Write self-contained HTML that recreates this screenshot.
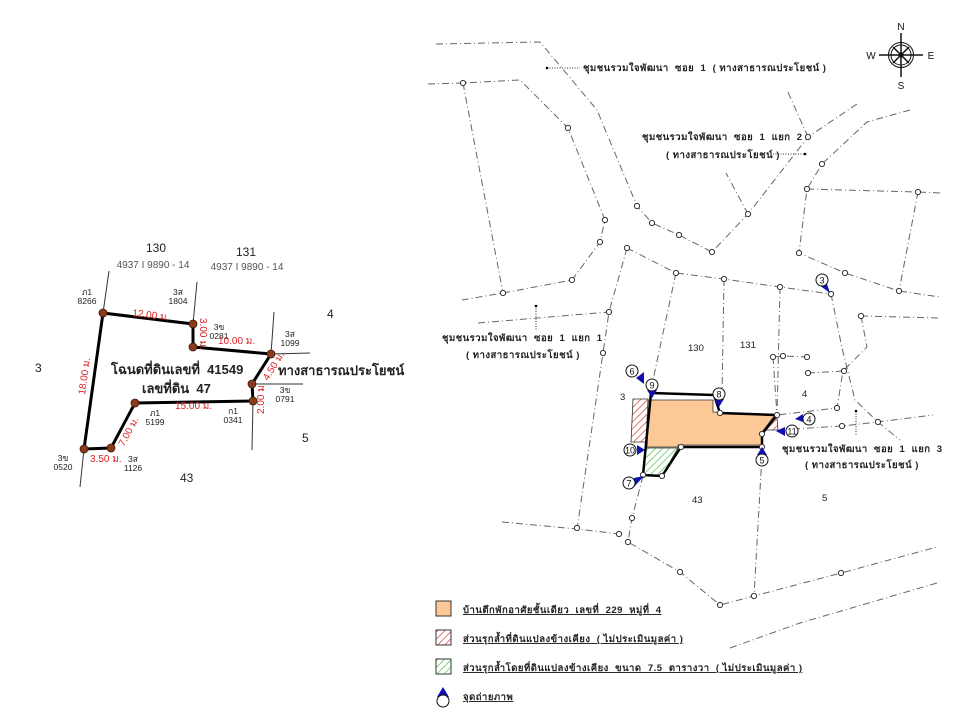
<!DOCTYPE html>
<html><head><meta charset="utf-8"><style>
html,body{margin:0;padding:0;background:#fff;width:960px;height:720px;overflow:hidden}
svg{display:block}
text{font-family:"Liberation Sans","Noto Sans CJK SC",sans-serif}
.r{fill:none;stroke:#666;stroke-width:1;stroke-dasharray:7 3 1 3}
.c{fill:#fff;stroke:#333;stroke-width:1}
.t{font-size:9.5px;fill:#222}
.red{font-size:10px;fill:#d22}
.lbl{font-size:9.5px;font-weight:bold;fill:#222;letter-spacing:0.5px}
</style></head><body>
<svg width="960" height="720" viewBox="0 0 960 720" xmlns="http://www.w3.org/2000/svg">
<defs>
<pattern id="hr" width="5" height="5" patternUnits="userSpaceOnUse" patternTransform="rotate(45)"><rect width="5" height="5" fill="#fff"/><line x1="0" y1="0" x2="0" y2="5" stroke="#e57373" stroke-width="2"/></pattern>
<pattern id="hg" width="5" height="5" patternUnits="userSpaceOnUse" patternTransform="rotate(45)"><rect width="5" height="5" fill="#fff"/><line x1="0" y1="0" x2="0" y2="5" stroke="#7ed67e" stroke-width="2"/></pattern>
<g id="pt"><circle r="2.6" class="c"/></g>
</defs>

<!-- LEFT DIAGRAM -->
<g stroke="#333" stroke-width="1" fill="none">
<line x1="109" y1="271" x2="103" y2="313"/>
<line x1="84" y1="449" x2="80" y2="487"/>
<line x1="197" y1="282" x2="193" y2="324"/>
<line x1="274" y1="312" x2="271" y2="354"/>
<line x1="271" y1="354" x2="310" y2="353"/>
<line x1="252" y1="384" x2="303" y2="384"/>
<line x1="253" y1="401" x2="252" y2="450"/>
</g>
<polyline points="103,313 193,324 193,347 271,354 252,384 253,401 135,403 111,448 84,449 103,313" fill="none" stroke="#000" stroke-width="3" stroke-linejoin="round"/>
<g fill="#8b3a1a" stroke="#3a1a0a" stroke-width="0.8">
<circle cx="103" cy="313" r="4"/><circle cx="193" cy="324" r="4"/><circle cx="193" cy="347" r="4"/><circle cx="271" cy="354" r="4"/><circle cx="252" cy="384" r="4"/><circle cx="253" cy="401" r="4"/><circle cx="135" cy="403" r="4"/><circle cx="111" cy="448" r="4"/><circle cx="84" cy="449" r="4"/>
</g>
<text x="156" y="252" font-size="12" text-anchor="middle" fill="#222">130</text>
<text x="246" y="256" font-size="12" text-anchor="middle" fill="#222">131</text>
<text x="153" y="268" font-size="10" text-anchor="middle" fill="#555">4937 I 9890 - 14</text>
<text x="247" y="270" font-size="10" text-anchor="middle" fill="#555">4937 I 9890 - 14</text>
<text x="327" y="318" font-size="12" fill="#222">4</text>
<text x="35" y="372" font-size="12" fill="#222">3</text>
<text x="302" y="442" font-size="12" fill="#222">5</text>
<text x="180" y="482" font-size="12" fill="#222">43</text>
<text x="111" y="374" font-size="13" font-weight="bold" fill="#222">โฉนดที่ดินเลขที่&#160;&#160;41549</text>
<text x="142" y="393" font-size="13" font-weight="bold" fill="#222">เลขที่ดิน&#160;&#160;47</text>
<text x="278" y="375" font-size="13" font-weight="bold" fill="#222">ทางสาธารณประโยชน์</text>
<g class="t" text-anchor="middle">
<text x="87" y="295" font-size="8.5">ภ1</text><text x="87" y="304" font-size="8.5">8266</text>
<text x="178" y="295" font-size="8.5">3ส</text><text x="178" y="304" font-size="8.5">1804</text>
<text x="219" y="330" font-size="8.5">3ข</text><text x="219" y="339" font-size="8.5">0281</text>
<text x="290" y="337" font-size="8.5">3ส</text><text x="290" y="346" font-size="8.5">1099</text>
<text x="285" y="393" font-size="8.5">3ข</text><text x="285" y="402" font-size="8.5">0791</text>
<text x="155" y="416" font-size="8.5">ภ1</text><text x="155" y="425" font-size="8.5">5199</text>
<text x="233" y="414" font-size="8.5">ก1</text><text x="233" y="423" font-size="8.5">0341</text>
<text x="63" y="461" font-size="8.5">3ข</text><text x="63" y="470" font-size="8.5">0520</text>
<text x="133" y="462" font-size="8.5">3ส</text><text x="133" y="471" font-size="8.5">1126</text>
</g>
<g class="red" font-size="9.5">
<text x="132" y="316" transform="rotate(7 132 316)">12.00 ม.</text>
<text x="218" y="344">10.00 ม.</text>
<text x="175" y="409">15.00 ม.</text>
<text x="90" y="462">3.50 ม.</text>
<text x="200" y="318" transform="rotate(90 200 318)">3.00 ม.</text>
<text x="85" y="395" transform="rotate(-82 85 395)">18.00 ม.</text>
<text x="124" y="447" transform="rotate(-62 124 447)">7.00 ม.</text>
<text x="268" y="381" transform="rotate(-58 268 381)">4.50 ม.</text>
<text x="264" y="414" transform="rotate(-90 264 414)">2.00 ม.</text>
</g>

<!-- RIGHT MAP ROADS -->
<g class="r">
<polyline points="436,44 540,42 597,110 637,206 652,223 679,235 712,252 748,214 808,137 857,104"/>
<polyline points="808,137 787,90"/>
<polyline points="748,214 726,173"/>
<polyline points="428,84 463,83 520,80 568,128 605,220 600,242 572,280 503,293 462,300"/>
<polyline points="463,83 503,293"/>
<polyline points="910,110 867,122 822,164 807,189 799,253 845,273 899,291 940,297"/>
<polyline points="807,189 918,192 940,193"/>
<polyline points="918,192 899,291"/>
<polyline points="627,248 676,273 724,279 780,287 831,294"/>
<polyline points="627,248 609,312 603,353 577,529"/>
<polyline points="478,323 609,312"/>
<polyline points="676,273 660,347 652,385"/>
<polyline points="724,279 722,395"/>
<polyline points="780,287 777,415"/>
<polyline points="831,294 842,348 855,400 878,422 900,440"/>
<polyline points="861,316 940,318"/>
<polyline points="861,316 867,347 843,371 837,408 777,415"/>
<polyline points="773,357 783,356 807,357"/>
<polyline points="808,373 844,371"/>
<polyline points="773,357 777,415"/>
<polyline points="793,429 842,426 878,422 933,415"/>
<polyline points="502,522 577,529 619,534"/>
<polyline points="643,476 632,518 628,542 680,572 720,605 754,596 841,573 937,547"/>
<polyline points="762,455 754,596"/>
<polyline points="730,648 800,623 937,583"/>
</g>
<line x1="547" y1="68" x2="580" y2="68" stroke="#333" stroke-dasharray="1 1.5"/><circle cx="547" cy="68" r="1.3"/>
<line x1="773" y1="154" x2="805" y2="154" stroke="#333" stroke-dasharray="1 1.5"/><circle cx="805" cy="154" r="1.3"/>
<line x1="536" y1="306" x2="536" y2="330" stroke="#333" stroke-dasharray="1 1.5"/><circle cx="536" cy="306" r="1.3"/>
<line x1="856" y1="411" x2="856" y2="435" stroke="#333" stroke-dasharray="1 1.5"/><circle cx="856" cy="411" r="1.3"/>
<g>
<use href="#pt" x="463" y="83"/><use href="#pt" x="568" y="128"/><use href="#pt" x="605" y="220"/><use href="#pt" x="600" y="242"/><use href="#pt" x="572" y="280"/><use href="#pt" x="503" y="293"/>
<use href="#pt" x="637" y="206"/><use href="#pt" x="652" y="223"/><use href="#pt" x="679" y="235"/><use href="#pt" x="712" y="252"/><use href="#pt" x="748" y="214"/><use href="#pt" x="808" y="137"/>
<use href="#pt" x="822" y="164"/><use href="#pt" x="807" y="189"/><use href="#pt" x="918" y="192"/><use href="#pt" x="799" y="253"/><use href="#pt" x="845" y="273"/><use href="#pt" x="899" y="291"/>
<use href="#pt" x="627" y="248"/><use href="#pt" x="676" y="273"/><use href="#pt" x="724" y="279"/><use href="#pt" x="780" y="287"/><use href="#pt" x="831" y="294"/>
<use href="#pt" x="609" y="312"/><use href="#pt" x="603" y="353"/><use href="#pt" x="861" y="316"/>
<use href="#pt" x="773" y="357"/><use href="#pt" x="783" y="356"/><use href="#pt" x="807" y="357"/><use href="#pt" x="808" y="373"/><use href="#pt" x="844" y="371"/><use href="#pt" x="837" y="408"/>
<use href="#pt" x="842" y="426"/><use href="#pt" x="878" y="422"/>
<use href="#pt" x="577" y="528"/><use href="#pt" x="619" y="534"/><use href="#pt" x="628" y="542"/><use href="#pt" x="632" y="518"/><use href="#pt" x="680" y="572"/><use href="#pt" x="720" y="605"/><use href="#pt" x="754" y="596"/><use href="#pt" x="841" y="573"/>
</g>

<!-- property -->
<polygon points="633,399 648,399 646,442 631,442" fill="url(#hr)" stroke="#333" stroke-width="0.8"/>
<polygon points="764,430 777,417 778,430" fill="url(#hr)" stroke="#333" stroke-width="0.8"/>
<polygon points="713,412 775,415 770,417 713,414" fill="url(#hr)"/>
<polygon points="649,400 713,400 713,412 775,415 762,432 762,445 678,445 678,447 647,447" fill="#fcc896" stroke="#333" stroke-width="0.8"/>
<polygon points="646,448 678,448 662,476 643,475" fill="url(#hg)" stroke="#333" stroke-width="0.8"/>
<polyline points="651,393 714,395 720,413 777,415 762,434 762,447 681,447 662,476 643,475 651,393" fill="none" stroke="#000" stroke-width="2.5" stroke-linejoin="round"/>
<g><use href="#pt" x="720" y="413"/><use href="#pt" x="777" y="415"/><use href="#pt" x="762" y="434"/><use href="#pt" x="762" y="447"/><use href="#pt" x="681" y="447"/><use href="#pt" x="662" y="476"/><use href="#pt" x="643" y="475"/></g>

<!-- markers -->
<g fill="#1010b0">
<polygon points="636,378 644,372 644,384"/>
<polygon points="647,390 657,390 652,398"/>
<polygon points="714,399 724,399 719,407"/>
<polygon points="819,285 827,284 830,293"/>
<polygon points="803,422 803,414 795,419"/>
<polygon points="785,427 785,436 776,431"/>
<polygon points="637,445 637,455 645,450"/>
<polygon points="757,455 767,455 762,447"/>
<polygon points="634,478 644,476 634,487"/>
</g>
<g fill="#fff" stroke="#111" stroke-width="1">
<circle cx="632" cy="371" r="6"/><circle cx="652" cy="385" r="6"/><circle cx="719" cy="394" r="6"/><circle cx="822" cy="280" r="6"/><circle cx="809" cy="419" r="6"/><circle cx="792" cy="431" r="6"/><circle cx="630" cy="450" r="6"/><circle cx="762" cy="460" r="6"/><circle cx="629" cy="483" r="6"/>
</g>
<g font-size="9" text-anchor="middle" fill="#111">
<text x="632" y="374.5">6</text><text x="652" y="388.5">9</text><text x="719" y="397.5">8</text><text x="822" y="283.5">3</text><text x="809" y="422.5">4</text><text x="792" y="434.5">11</text><text x="630" y="453.5">10</text><text x="762" y="463.5">5</text><text x="629" y="486.5">7</text>
</g>

<!-- map labels -->
<g class="t">
<text x="688" y="351">130</text><text x="740" y="348">131</text>
<text x="620" y="400">3</text><text x="802" y="397">4</text>
<text x="692" y="503">43</text><text x="822" y="501">5</text>
</g>
<g class="lbl">
<text x="583" y="71">ชุมชนรวมใจพัฒนา&#160; ซอย&#160; 1&#160; ( ทางสาธารณประโยชน์ )</text>
<text x="642" y="140">ชุมชนรวมใจพัฒนา&#160; ซอย&#160; 1&#160; แยก&#160; 2</text>
<text x="666" y="158">( ทางสาธารณประโยชน์ )</text>
<text x="442" y="341">ชุมชนรวมใจพัฒนา&#160; ซอย&#160; 1&#160; แยก&#160; 1</text>
<text x="466" y="358">( ทางสาธารณประโยชน์ )</text>
<text x="782" y="452">ชุมชนรวมใจพัฒนา&#160; ซอย&#160; 1&#160; แยก&#160; 3</text>
<text x="805" y="468">( ทางสาธารณประโยชน์ )</text>
</g>

<!-- compass -->
<g stroke="#111" fill="none">
<circle cx="901" cy="55" r="10" stroke-width="1"/><circle cx="901" cy="55" r="12.5" stroke-width="1"/>
<line x1="901" y1="33" x2="901" y2="77" stroke-width="1.5"/><line x1="879" y1="55" x2="923" y2="55" stroke-width="1.5"/>
<line x1="893" y1="47" x2="909" y2="63" stroke-width="1.5"/><line x1="909" y1="47" x2="893" y2="63" stroke-width="1.5"/>
<circle cx="901" cy="55" r="2" fill="#111"/>
</g>
<g font-size="10" fill="#111" text-anchor="middle"><text x="901" y="30">N</text><text x="901" y="89">S</text><text x="871" y="59">W</text><text x="931" y="59">E</text></g>

<!-- legend -->
<rect x="436" y="601" width="15" height="15" fill="#fcc896" stroke="#333"/>
<rect x="436" y="630" width="15" height="15" fill="url(#hr)" stroke="#333"/>
<rect x="436" y="659" width="15" height="15" fill="url(#hg)" stroke="#333"/>
<polygon points="437,697 443,687 449,697" fill="#1010b0"/>
<circle cx="443" cy="701" r="6" fill="#fff" stroke="#111"/>
<g class="lbl" text-decoration="underline">
<text x="463" y="613">บ้านตึกพักอาศัยชั้นเดียว&#160; เลขที่&#160; 229&#160; หมู่ที่&#160; 4</text>
<text x="463" y="642">ส่วนรุกล้ำที่ดินแปลงข้างเคียง&#160; ( ไม่ประเมินมูลค่า )</text>
<text x="463" y="671">ส่วนรุกล้ำโดยที่ดินแปลงข้างเคียง&#160; ขนาด&#160; 7.5&#160; ตารางวา&#160; ( ไม่ประเมินมูลค่า )</text>
<text x="463" y="700">จุดถ่ายภาพ</text>
</g>
</svg>
</body></html>
